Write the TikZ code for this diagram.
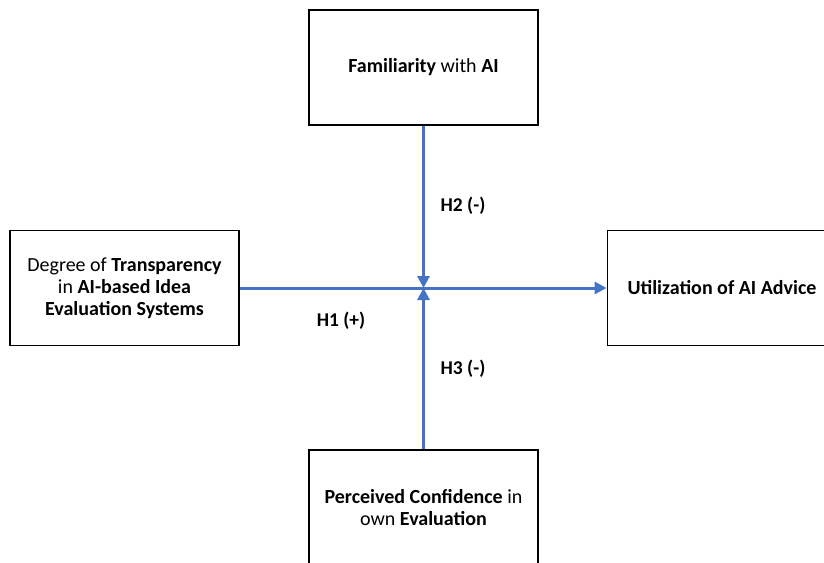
\documentclass[tikz,border=0pt]{standalone}
\usepackage{fontspec}
\setmainfont{Carlito}
\usetikzlibrary{arrows.meta}
\definecolor{linkblue}{HTML}{4472C4}
\begin{document}
\begin{tikzpicture}[x=1pt,y=-1pt,
  box/.style={draw=black,line width=1.8pt,minimum width=229pt,minimum height=115pt,
    align=center,inner sep=0pt,font=\fontsize{20}{22}\selectfont},
  link/.style={draw=linkblue,line width=3pt,
    -{Triangle[length=12pt,width=12pt]}},
  hyp/.style={font=\fontsize{19.5}{22}\selectfont\bfseries}]
\useasboundingbox (0,0) rectangle (824,562);
\begin{scope}
\clip (0,0) rectangle (824,562);
\node[box] (fam) at (423.5,67.5) {\textbf{Familiarity} with \textbf{AI}};
\node[box] (trans) at (124.5,288) {Degree of \textbf{Transparency}\\in \textbf{AI-based Idea}\\\textbf{Evaluation Systems}};
\node[box] (util) at (722,288) {\textbf{Utilization of AI Advice}};
\node[box] (conf) at (423.5,507.5) {\textbf{Perceived Confidence} in\\own \textbf{Evaluation}};
\end{scope}
\coordinate (mid) at (fam.south |- trans.east);
\draw[link] (trans.east) -- (util.west);
\draw[link] (fam.south) -- (mid);
\draw[link] (conf.north) -- (mid);
\node[hyp] (h2) at (463,206) {H2 (-)};
\node[hyp] (h1) at (341,321) {H1 (+)};
\node[hyp] (h3) at (463,369) {H3 (-)};
\end{tikzpicture}
\end{document}
